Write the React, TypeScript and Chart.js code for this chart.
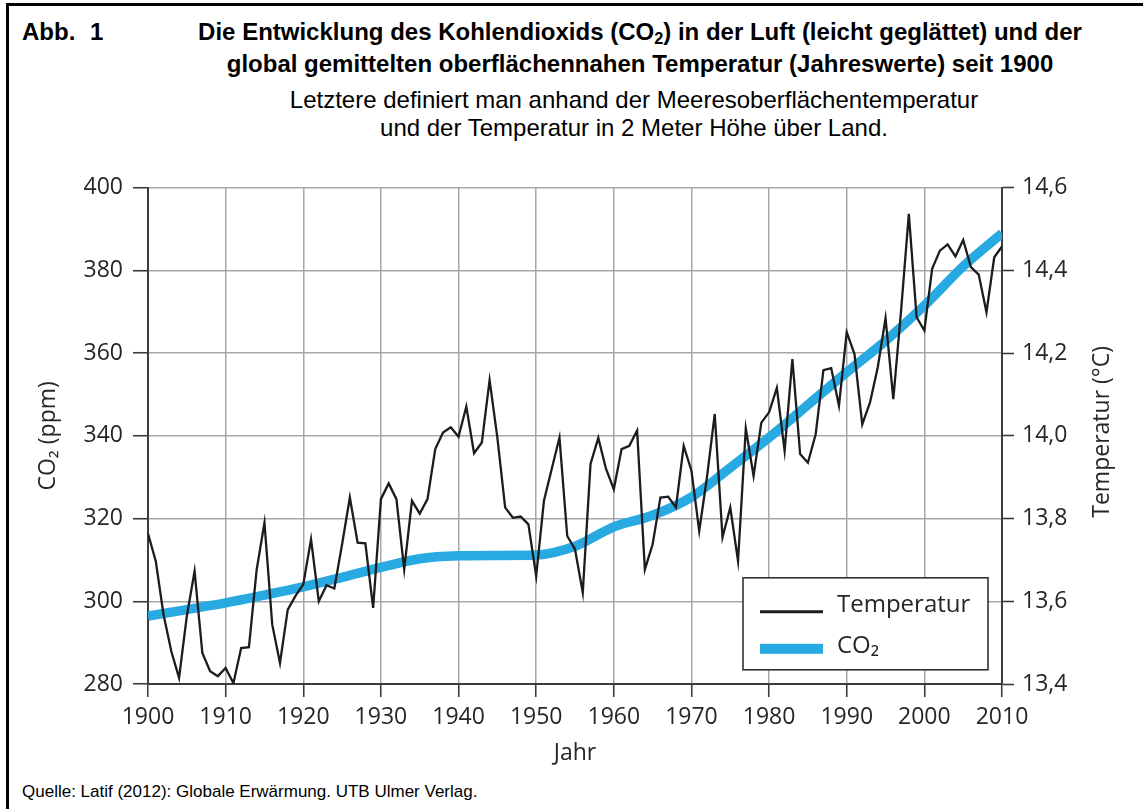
import React, { useEffect, useRef } from "react";
import { Chart, registerables } from "chart.js";

Chart.register(...registerables);

// ---- data ----
const tempStartYear = 1900;
const temperature: number[] = [
  13.764, 13.697, 13.568, 13.479, 13.415, 13.564, 13.673, 13.475, 13.431, 13.419,
  13.439, 13.402, 13.487, 13.489, 13.677, 13.790, 13.544, 13.451, 13.580, 13.613,
  13.641, 13.750, 13.600, 13.639, 13.631, 13.738, 13.851, 13.742, 13.740, 13.584,
  13.847, 13.885, 13.847, 13.677, 13.843, 13.812, 13.847, 13.968, 14.008, 14.021,
  13.998, 14.071, 13.958, 13.984, 14.135, 13.996, 13.827, 13.802, 13.805, 13.786,
  13.661, 13.843, 13.920, 13.996, 13.758, 13.726, 13.621, 13.932, 13.995, 13.920,
  13.871, 13.968, 13.976, 14.013, 13.677, 13.738, 13.851, 13.853, 13.827, 13.976,
  13.916, 13.770, 13.900, 14.053, 13.755, 13.827, 13.697, 14.018, 13.903, 14.032,
  14.057, 14.116, 13.964, 14.186, 13.956, 13.935, 14.004, 14.159, 14.164, 14.073,
  14.251, 14.198, 14.028, 14.081, 14.166, 14.285, 14.089, 14.303, 14.537, 14.287,
  14.255, 14.404, 14.448, 14.463, 14.434, 14.474, 14.408, 14.390, 14.299, 14.432,
  14.458,
];
const co2Years: number[] = [
  1900, 1905, 1910, 1915, 1920, 1925, 1930, 1935, 1940, 1945, 1950, 1955,
  1960, 1965, 1970, 1975, 1980, 1985, 1990, 1995, 2000, 2005, 2010,
];
const co2Values: number[] = [
  296.4, 298.0, 299.6, 301.5, 303.5, 305.8, 308.2, 310.3, 311.0, 311.1, 311.2, 313.3,
  318.0, 320.8, 325.2, 332.3, 339.6, 347.5, 355.4, 363.0, 371.5, 381.0, 389.0,
];
const xTickYears = [1900, 1910, 1920, 1930, 1940, 1950, 1960, 1970, 1980, 1990, 2000, 2010];
const co2Ticks = [280, 300, 320, 340, 360, 380, 400];
const tempTicks = ["13,4", "13,6", "13,8", "14,0", "14,2", "14,4", "14,6"];

const titleLine1 = "Die Entwicklung des Kohlendioxids (CO";
const titleLine1b = ") in der Luft (leicht geglättet) und der";
const titleLine2 = "global gemittelten oberflächennahen Temperatur (Jahreswerte) seit 1900";
const subLine1 = "Letztere definiert man anhand der Meeresoberflächentemperatur";
const subLine2 = "und der Temperatur in 2 Meter Höhe über Land.";
const sourceText = "Quelle: Latif (2012): Globale Erwärmung. UTB Ulmer Verlag.";

const AX_FONT = "'Open Sans', 'Noto Sans', sans-serif";
const TEXT_COLOR = "#262626";
const GRID_COLOR = "#a4a7ab";
const AXIS_COLOR = "#3c3c3c";

const overlayPlugin = {
  id: "overlay",
  afterDatasetsDraw(chart: any) {
    const { ctx, chartArea } = chart;
    const ds = chart.data.datasets;
    // legend box
    const bx = chartArea.right - 259;
    const by = chartArea.top + 390;
    const bw = 245;
    const bh = 92;
    ctx.save();
    ctx.fillStyle = "#ffffff";
    ctx.fillRect(bx, by, bw, bh);
    ctx.strokeStyle = "#333";
    ctx.lineWidth = 1.6;
    ctx.strokeRect(bx, by, bw, bh);
    ctx.strokeStyle = ds[0].borderColor;
    ctx.lineWidth = 3;
    ctx.beginPath();
    ctx.moveTo(bx + 17, by + 34);
    ctx.lineTo(bx + 80, by + 34);
    ctx.stroke();
    ctx.fillStyle = ds[1].borderColor;
    ctx.fillRect(bx + 17, by + 66, 63, 10);
    ctx.fillStyle = TEXT_COLOR;
    ctx.font = `24px ${AX_FONT}`;
    ctx.textBaseline = "alphabetic";
    ctx.textAlign = "left";
    ctx.fillText(ds[0].label, bx + 94, by + 34);
    ctx.fillText(ds[1].label, bx + 94, by + 75);
    ctx.restore();
  },
  afterDraw(chart: any) {
    const { ctx, chartArea } = chart;
    ctx.save();
    ctx.translate(chartArea.right + 100, (chartArea.top + chartArea.bottom) / 2 - 4);
    ctx.rotate(-Math.PI / 2);
    ctx.font = `23px ${AX_FONT}`;
    ctx.fillStyle = TEXT_COLOR;
    ctx.textAlign = "center";
    ctx.textBaseline = "middle";
    ctx.fillText("Temperatur (°C)", 0, 0);
    ctx.restore();
  },
};

function ClimateChart() {
  const ref = useRef<HTMLCanvasElement | null>(null);
  useEffect(() => {
    if (!ref.current) return;
    const tempData = temperature.map((t, i) => ({ x: tempStartYear + i, y: t }));
    const co2Data = co2Years.map((yr, i) => ({ x: yr, y: co2Values[i] }));
    const chart = new Chart(ref.current, {
      type: "line",
      data: {
        datasets: [
          {
            label: "Temperatur",
            data: tempData,
            yAxisID: "y1",
            borderColor: "#1c1c1c",
            borderWidth: 2.3,
            pointRadius: 0,
            tension: 0,
            order: 0,
          },
          {
            label: "CO₂",
            data: co2Data,
            yAxisID: "y",
            borderColor: "#29a9e1",
            borderWidth: 9.5,
            borderCapStyle: "butt",
            pointRadius: 0,
            tension: 0.4,
            cubicInterpolationMode: "monotone",
            order: 1,
          },
        ],
      },
      options: {
        animation: false,
        responsive: false,
        events: [],
        layout: { padding: { top: 11, left: 0, right: 0, bottom: 0 } },
        plugins: { legend: { display: false }, tooltip: { enabled: false } },
        scales: {
          x: {
            type: "linear",
            min: xTickYears[0],
            max: xTickYears[xTickYears.length - 1],
            afterBuildTicks: (s: any) => {
              s.ticks = xTickYears.map((v) => ({ value: v }));
            },
            afterFit: (s: any) => {
              s.height = 96;
            },
            ticks: {
              callback: (v: any) => String(v),
              font: { family: AX_FONT, size: 23 },
              color: TEXT_COLOR,
              padding: 7,
              maxRotation: 0,
              autoSkip: false,
            },
            grid: { color: GRID_COLOR, lineWidth: 1.5, tickLength: 13, tickColor: AXIS_COLOR, tickWidth: 1.6 },
            border: { color: AXIS_COLOR, width: 2 },
            title: {
              display: true,
              text: "Jahr",
              font: { family: AX_FONT, size: 23 },
              color: TEXT_COLOR,
              padding: { top: 0, bottom: 13 },
            },
          },
          y: {
            type: "linear",
            position: "left",
            min: co2Ticks[0],
            max: co2Ticks[co2Ticks.length - 1],
            afterBuildTicks: (s: any) => {
              s.ticks = co2Ticks.map((v) => ({ value: v }));
            },
            afterFit: (s: any) => {
              s.width = 148;
            },
            ticks: {
              callback: (v: any) => String(v),
              font: { family: AX_FONT, size: 23 },
              color: TEXT_COLOR,
              padding: 10,
            },
            grid: { color: GRID_COLOR, lineWidth: 1.5, tickLength: 15, tickColor: AXIS_COLOR, tickWidth: 1.6 },
            border: { color: AXIS_COLOR, width: 2 },
            title: {
              display: true,
              text: "CO₂ (ppm)",
              font: { family: AX_FONT, size: 23 },
              color: TEXT_COLOR,
              padding: { top: 35, bottom: 0 },
            },
          },
          y1: {
            type: "linear",
            position: "right",
            min: 13.4,
            max: 14.6,
            afterBuildTicks: (s: any) => {
              s.ticks = tempTicks.map((t) => ({ value: parseFloat(t.replace(",", ".")) }));
            },
            afterFit: (s: any) => {
              s.width = 141;
            },
            ticks: {
              callback: (_v: any, i: number) => tempTicks[i],
              font: { family: AX_FONT, size: 23 },
              color: TEXT_COLOR,
              padding: 8,
            },
            grid: { drawOnChartArea: false, tickLength: 12, tickColor: AXIS_COLOR, tickWidth: 1.6 },
            border: { color: AXIS_COLOR, width: 2 },
          },
        },
      },
      plugins: [overlayPlugin],
    } as any);
    return () => chart.destroy();
  }, []);
  return <canvas ref={ref} width={1143} height={616} style={{ display: "block" }} />;
}

export default function App() {
  const sans = "'Liberation Sans', Arial, sans-serif";
  return (
    <div
      style={{
        position: "fixed",
        inset: 0,
        overflow: "hidden",
        background: "#fff",
        fontFamily: sans,
        color: "#000",
      }}
    >
      <div
        style={{
          position: "absolute",
          left: 6,
          top: 3,
          right: -20,
          bottom: -20,
          borderLeft: "3px solid #000",
          borderTop: "3px solid #000",
        }}
      />
      <div
        style={{
          position: "absolute",
          left: 22,
          top: 17,
          fontSize: 24,
          fontWeight: "bold",
          lineHeight: "30px",
          whiteSpace: "pre",
          wordSpacing: 8,
        }}
      >
        Abb. 1
      </div>
      <div
        style={{
          position: "absolute",
          left: 140,
          width: 1000,
          top: 17,
          textAlign: "center",
          fontSize: 24,
          fontWeight: "bold",
          lineHeight: "30px",
          whiteSpace: "nowrap",
        }}
      >
        <div>
          {titleLine1}
          <span style={{ fontSize: "0.68em", position: "relative", top: "0.25em" }}>2</span>
          {titleLine1b}
        </div>
        <div>{titleLine2}</div>
      </div>
      <div
        style={{
          position: "absolute",
          left: 134,
          width: 1000,
          top: 86,
          textAlign: "center",
          fontSize: 24,
          lineHeight: "28px",
          whiteSpace: "nowrap",
        }}
      >
        <div>{subLine1}</div>
        <div>{subLine2}</div>
      </div>
      <div style={{ position: "absolute", left: 0, top: 164, width: 1143, height: 616 }}>
        <ClimateChart />
      </div>
      <div style={{ position: "absolute", left: 22, top: 782, fontSize: 17, lineHeight: "20px", whiteSpace: "nowrap" }}>
        {sourceText}
      </div>
    </div>
  );
}
